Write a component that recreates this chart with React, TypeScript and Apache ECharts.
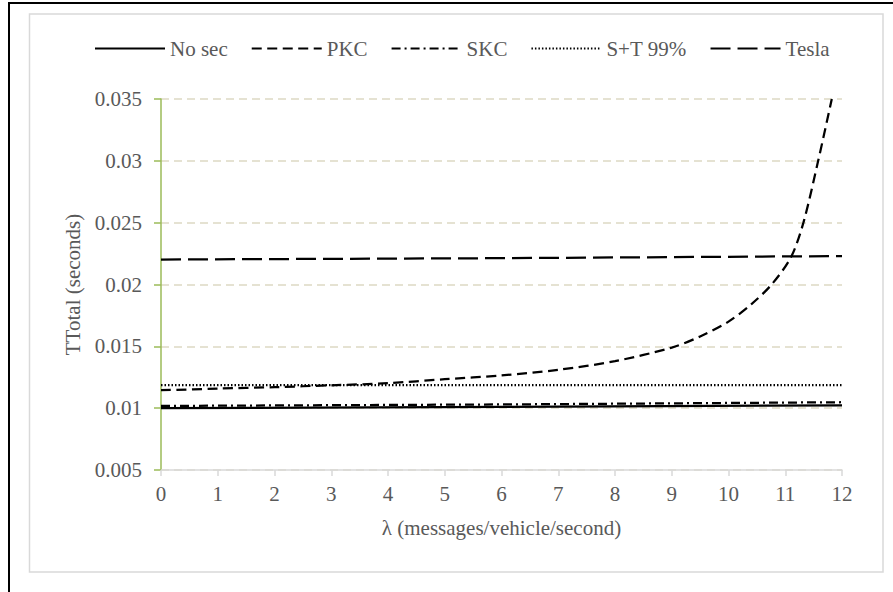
import React, { useEffect, useRef } from "react";
import * as echarts from "echarts";

const seriesNames = ["No sec", "PKC", "SKC", "S+T 99%", "Tesla"];

const noSecData: [number, number][] = [
  [0, 0.0100], [6, 0.01010], [12, 0.01023],
];
const pkcData: [number, number][] = [
  [0, 0.01145], [1, 0.01158], [2, 0.01170], [3, 0.01185], [4, 0.01202],
  [5, 0.01234], [6, 0.01265], [7, 0.01310], [8, 0.01380], [9, 0.01490],
  [9.5, 0.01580], [10, 0.01700], [10.4, 0.01840], [10.76, 0.0200],
  [11.1, 0.0222], [11.32, 0.0250], [11.58, 0.0300], [11.82, 0.0350],
];
const skcData: [number, number][] = [
  [0, 0.01018], [6, 0.01030], [12, 0.01048],
];
const stData: [number, number][] = [
  [0, 0.01186], [12, 0.01186],
];
const teslaData: [number, number][] = [
  [0, 0.02202], [6, 0.02213], [12, 0.02230],
];

const yTicks = ["0.005", "0.01", "0.015", "0.02", "0.025", "0.03", "0.035"];

const FONT = "Liberation Serif";
const FS = 21;
const TXT = "#595959";

export default function App() {
  const ref = useRef<HTMLDivElement>(null);
  useEffect(() => {
    if (!ref.current) return;
    const chart = echarts.init(ref.current, undefined, { renderer: "svg" });
    const lw = 2.25;
    const mk = (name: string, data: [number, number][], type: any, smooth: any = false) => ({
      name,
      type: "line",
      data,
      symbol: "none",
      showSymbol: false,
      smooth,
      lineStyle: { color: "#000", width: lw, type, cap: "butt" },
      itemStyle: { color: "#000" },
      emphasis: { disabled: true },
    });
    chart.setOption({
      animation: false,
      backgroundColor: "#fff",
      textStyle: { fontFamily: FONT },
      graphic: [
        { type: "rect", shape: { x: 29.5, y: 14, width: 853.5, height: 558 }, style: { fill: "none", stroke: "#d9d9d9", lineWidth: 1.5 }, silent: true },
        { type: "line", shape: { x1: 8, y1: 3, x2: 893, y2: 3 }, style: { stroke: "#000", lineWidth: 2 }, silent: true },
        { type: "line", shape: { x1: 9, y1: 2, x2: 9, y2: 592 }, style: { stroke: "#000", lineWidth: 2 }, silent: true },
      ],
      legend: {
        left: 89,
        top: 33,
        itemWidth: 70,
        itemHeight: 14,
        itemGap: 23,
        data: seriesNames,
        itemStyle: { opacity: 0 },
        textStyle: { fontFamily: FONT, fontSize: FS, color: TXT },
      },
      grid: { left: 161, right: 51, top: 99, bottom: 122, containLabel: false },
      xAxis: {
        type: "value",
        min: 0,
        max: 12,
        interval: 1,
        name: "λ (messages/vehicle/second)",
        nameLocation: "middle",
        nameGap: 47,
        nameTextStyle: { fontFamily: FONT, fontSize: FS, color: TXT },
        axisLine: { show: true, lineStyle: { color: "#d9d9d9", width: 1.5 } },
        axisTick: { show: true, length: 6, lineStyle: { color: "#d9d9d9", width: 1.5 } },
        axisLabel: { fontFamily: FONT, fontSize: FS, color: TXT, margin: 13 },
        splitLine: { show: false },
      },
      yAxis: {
        type: "value",
        min: 0.005,
        max: 0.035,
        interval: 0.005,
        name: "TTotal (seconds)",
        nameLocation: "middle",
        nameGap: 73,
        nameTextStyle: { fontFamily: FONT, fontSize: FS, color: TXT },
        axisLine: { show: true, onZero: false, lineStyle: { color: "#9bbb59", width: 1.5 } },
        axisTick: { show: true, length: 7, lineStyle: { color: "#9bbb59", width: 1.5 } },
        axisLabel: {
          fontFamily: FONT,
          fontSize: FS,
          color: TXT,
          margin: 19,
          formatter: (v: number) => {
            const idx = Math.round((v - 0.005) / 0.005);
            return yTicks[idx] ?? "";
          },
        },
        splitLine: { show: true, lineStyle: { color: "#ddd9c3", width: 1.5, type: [8, 5] } },
      },
      series: [
        mk(seriesNames[0], noSecData, "solid"),
        mk(seriesNames[1], pkcData, [10, 5.5], 0.3),
        mk(seriesNames[2], skcData, [9, 4, 2, 4]),
        mk(seriesNames[3], stData, [1.5, 2]),
        mk(seriesNames[4], teslaData, [20, 7]),
      ],
    });
    return () => chart.dispose();
  }, []);
  return (
    <div
      ref={ref}
      style={{ position: "absolute", left: 0, top: 0, width: 893, height: 592, background: "#fff" }}
    />
  );
}
